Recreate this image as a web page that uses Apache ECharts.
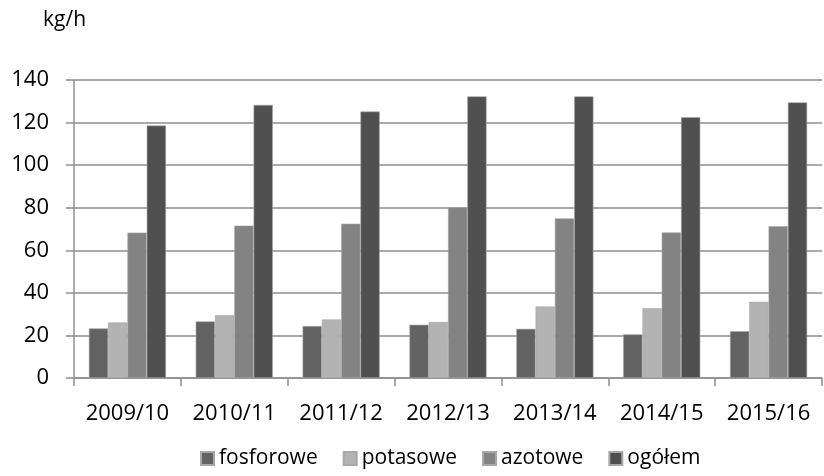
<!DOCTYPE html>
<html>
<head>
<meta charset="utf-8">
<script src="https://cdn.jsdelivr.net/npm/echarts@6/dist/echarts.min.js"></script>
<style>
  html, body { margin: 0; padding: 0; background: #ffffff; }
  #chart { width: 824px; height: 476px; }
</style>
</head>
<body>
<div id="chart"></div>
<script>
// Sezony
const categories = ['2009/10', '2010/11', '2011/12', '2012/13', '2013/14', '2014/15', '2015/16'];

// Zużycie nawozów, kg/h
const fosforowe = [23.3, 26.6, 24.4, 25.0, 23.1, 20.5, 22.0];
const potasowe  = [26.1, 29.5, 27.5, 26.3, 33.6, 32.8, 35.8];
const azotowe   = [68.3, 71.6, 72.5, 80.2, 75.0, 68.4, 71.3];
const ogolem    = [118.6, 128.3, 125.2, 132.3, 132.3, 122.5, 129.5];

const seriesNames = ['fosforowe', 'potasowe', 'azotowe', 'ogółem'];
const seriesData = [fosforowe, potasowe, azotowe, ogolem];
const seriesColors = ['#626262', '#b3b3b3', '#838383', '#505050'];

const FONT = '"Open Sans", sans-serif';
const GRID = '#8e8e8e';

const chart = echarts.init(document.getElementById('chart'));
chart.setOption({
  animation: false,
  backgroundColor: '#ffffff',
  textStyle: { fontFamily: FONT, color: '#000' },
  graphic: [{
    type: 'text',
    left: 43,
    top: 10,
    style: { text: 'kg/h', font: '21px ' + FONT, fill: '#000' }
  }],
  legend: {
    data: seriesNames,
    bottom: 2,
    left: 195,
    itemWidth: 13,
    itemHeight: 13,
    itemGap: 25,
    icon: 'rect',
    textStyle: { fontSize: 21, fontFamily: FONT, color: '#000' }
  },
  grid: { left: 74, right: 2, top: 80, bottom: 98, containLabel: false },
  xAxis: {
    type: 'category',
    data: categories,
    axisLine: { lineStyle: { color: GRID, width: 1.5 } },
    axisTick: { show: true, length: 8, lineStyle: { color: GRID, width: 1.5 } },
    axisLabel: { interval: 0, fontSize: 22, fontFamily: FONT, color: '#000', margin: 25 }
  },
  yAxis: {
    type: 'value',
    min: 0,
    max: 140,
    interval: 20,
    axisLine: { show: true, lineStyle: { color: GRID, width: 1.5 } },
    axisTick: { show: true, length: 8, lineStyle: { color: GRID, width: 1.5 } },
    splitLine: { show: true, lineStyle: { color: GRID, width: 1.5 } },
    axisLabel: { fontSize: 22, fontFamily: FONT, color: '#000', margin: 25 }
  },
  series: seriesNames.map((name, i) => ({
    name: name,
    type: 'bar',
    data: seriesData[i],
    barGap: '0%',
    barCategoryGap: '27.8%',
    itemStyle: { color: seriesColors[i], borderColor: '#a8a8a8', borderWidth: 0.6 }
  }))
});
</script>
</body>
</html>
